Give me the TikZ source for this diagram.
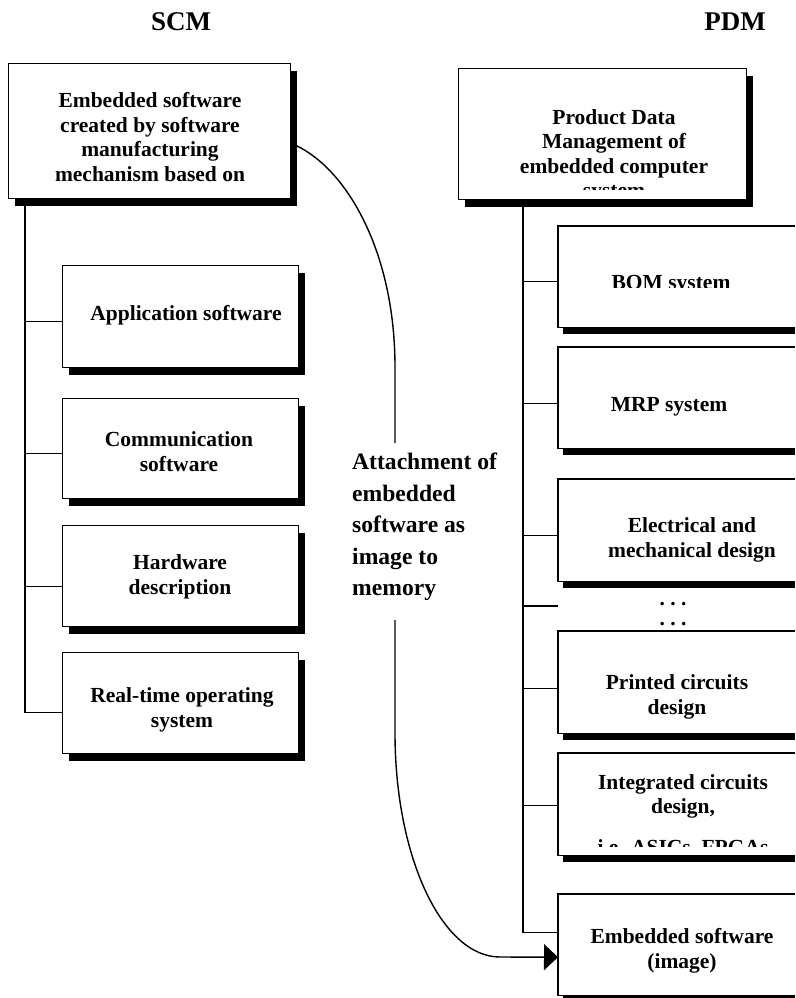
\documentclass[tikz,border=0pt]{standalone}
\usepackage{fontspec}
\setmainfont{Liberation Serif}
\usetikzlibrary{shadows,arrows.meta,calc}
\begin{document}
\begin{tikzpicture}[x=1pt,y=-1pt,
  plainbox/.style={draw=black, line width=1.1pt, fill=white, inner sep=0pt, anchor=north west},
  box/.style={plainbox, general shadow={fill=black, shadow xshift=6pt, shadow yshift=-7pt}},
  openbox/.style={draw=none, fill=white, inner sep=0pt, anchor=north west, minimum width=237pt},
  boxline/.style={line width=1.1pt},
  lbl/.style={font=\bfseries\fontsize{21.5}{24.5}\selectfont, align=center, inner sep=0pt},
  heading/.style={font=\bfseries\fontsize{27}{30}\selectfont, inner sep=0pt},
  note/.style={font=\bfseries\fontsize{23.6}{31.5}\selectfont, align=left, inner sep=0pt, anchor=north west},
  link/.style={line width=1.4pt},
]
\fill[white] (0,0) rectangle (795,998);
\useasboundingbox (0,0) rectangle (795,998);

% headings
\node[heading] (tscm) at (181,22) {SCM};
\node[heading] (tpdm) at (735,22) {PDM};

% ---------- SCM side ----------
\node[box, minimum width=282pt, minimum height=135pt] (scm) at (8,63) {};
\node[lbl] (scmtext) at (150,137) {Embedded software\\created by software\\manufacturing\\mechanism based on};

\node[box, minimum width=236pt, minimum height=102pt] (app)  at (62,265) {};
\node[box, minimum width=236pt, minimum height=100pt] (comm) at (62,398) {};
\node[box, minimum width=236pt, minimum height=101pt] (hw)   at (62,525) {};
\node[box, minimum width=236pt, minimum height=101pt] (rtos) at (62,652) {};

\node[lbl] (apptext)  at (186,315) {Application software};
\node[lbl] (commtext) at (179,451.5) {Communication\\software};
\node[lbl] (hwtext)   at (180,577) {Hardware\\description};
\node[lbl] (rtostext) at (182,710) {Real-time operating\\system};

% SCM tree
\path (scm.south west) ++(17,0) coordinate (lt);
\path ($(app.west)+(0,5)$) coordinate (appb)
      ($(comm.west)+(0,5)$) coordinate (commb)
      ($(hw.west)+(0,10.5)$) coordinate (hwb)
      ($(rtos.west)+(0,9.5)$) coordinate (rtosb);
\draw[link] (lt) |- (rtosb);
\draw[link] (lt |- appb) -- (appb);
\draw[link] (lt |- commb) -- (commb);
\draw[link] (lt |- hwb) -- (hwb);

% ---------- PDM side ----------
\node[box, minimum width=288pt, minimum height=131pt] (pdm) at (458,68) {};
\begin{scope}
  \clip (458,68) rectangle (746,189);
  \node[lbl] (pdmtext) at (614,156) {Product Data\\Management of\\embedded computer\\system};
\end{scope}

% these boxes are cut off by the right edge of the page
\node[openbox, minimum height=101pt] (bom)  at (558,226) {};
\node[openbox, minimum height=101pt] (mrp)  at (558,347) {};
\node[openbox, minimum height=102pt] (elec) at (558,479) {};
\node[openbox, minimum height=102pt] (pcb)  at (558,631) {};
\node[openbox, minimum height=102pt] (ic)   at (558,753) {};
\node[openbox, minimum height=101pt] (emb)  at (558,894) {};
\foreach \b in {bom,mrp,elec,pcb,ic,emb}{
  \fill[black] ($(\b.south west)+(5,0.5)$) rectangle ($(\b.south east)+(0,7)$);
  \draw[boxline] (\b.north east) -| (\b.south west) -- (\b.south east);
}

\begin{scope}
  \clip (558,226) rectangle (795,287);
  \node[lbl] (bomtext) at (671,285) {BOM system};
\end{scope}
\node[lbl] (mrptext)  at (669,407) {MRP system};
\node[lbl] (electext) at (692,540) {Electrical and\\mechanical design};
\node[lbl, font=\bfseries\fontsize{21.5}{20}\selectfont] (dots) at (673,614) {.\ .\ .\\.\ .\ .};
\node[lbl] (pcbtext)  at (677,697) {Printed circuits\\design};
\begin{scope}
  \clip (558,753) rectangle (795,846);
  \node[lbl, anchor=north] (ictext) at (683,774) {Integrated circuits\\design,\\[16pt]i.e. ASICs, FPGAs};
\end{scope}
\node[lbl] (embtext)  at (682,951) {Embedded software\\(image)};

% PDM tree
\path (pdm.south west) ++(65,0) coordinate (rt);
\coordinate (dotsb) at (558,606);
\path ($(bom.west)+(0,4.5)$) coordinate (bomb)
      ($(mrp.west)+(0,5.5)$) coordinate (mrpb)
      ($(elec.west)+(0,5)$) coordinate (elecb)
      ($(pcb.west)+(0,6)$) coordinate (pcbb)
      ($(ic.west)+(0,1)$) coordinate (icb)
      ($(emb.west)+(0,-12.5)$) coordinate (embb);
\draw[link] (rt) |- (embb);
\draw[link] (rt |- bomb) -- (bomb);
\draw[link] (rt |- mrpb) -- (mrpb);
\draw[link] (rt |- elecb) -- (elecb);
\draw[link] (rt |- dotsb) -- (dotsb);
\draw[link] (rt |- pcbb) -- (pcbb);
\draw[link] (rt |- icb) -- (icb);

% attachment link from SCM to PDM
\node[note] (att) at (352,453) {Attachment of\\embedded\\software as\\image to\\memory};
\coordinate (gaptop) at (395,443);
\coordinate (gapbot) at (395,620);
\draw[link] ($(scm.north east)!0.59!(scm.south east)$)
  .. controls (345,165) and (395,250) .. (395,367) -- (gaptop);
\draw[link, -{Triangle[length=14pt,width=26pt]}] (gapbot) -- (395,733)
  .. controls (395,857) and (442,957) .. (500,957) -- ($(emb.west)+(0,12.5)$);
\end{tikzpicture}
\end{document}
